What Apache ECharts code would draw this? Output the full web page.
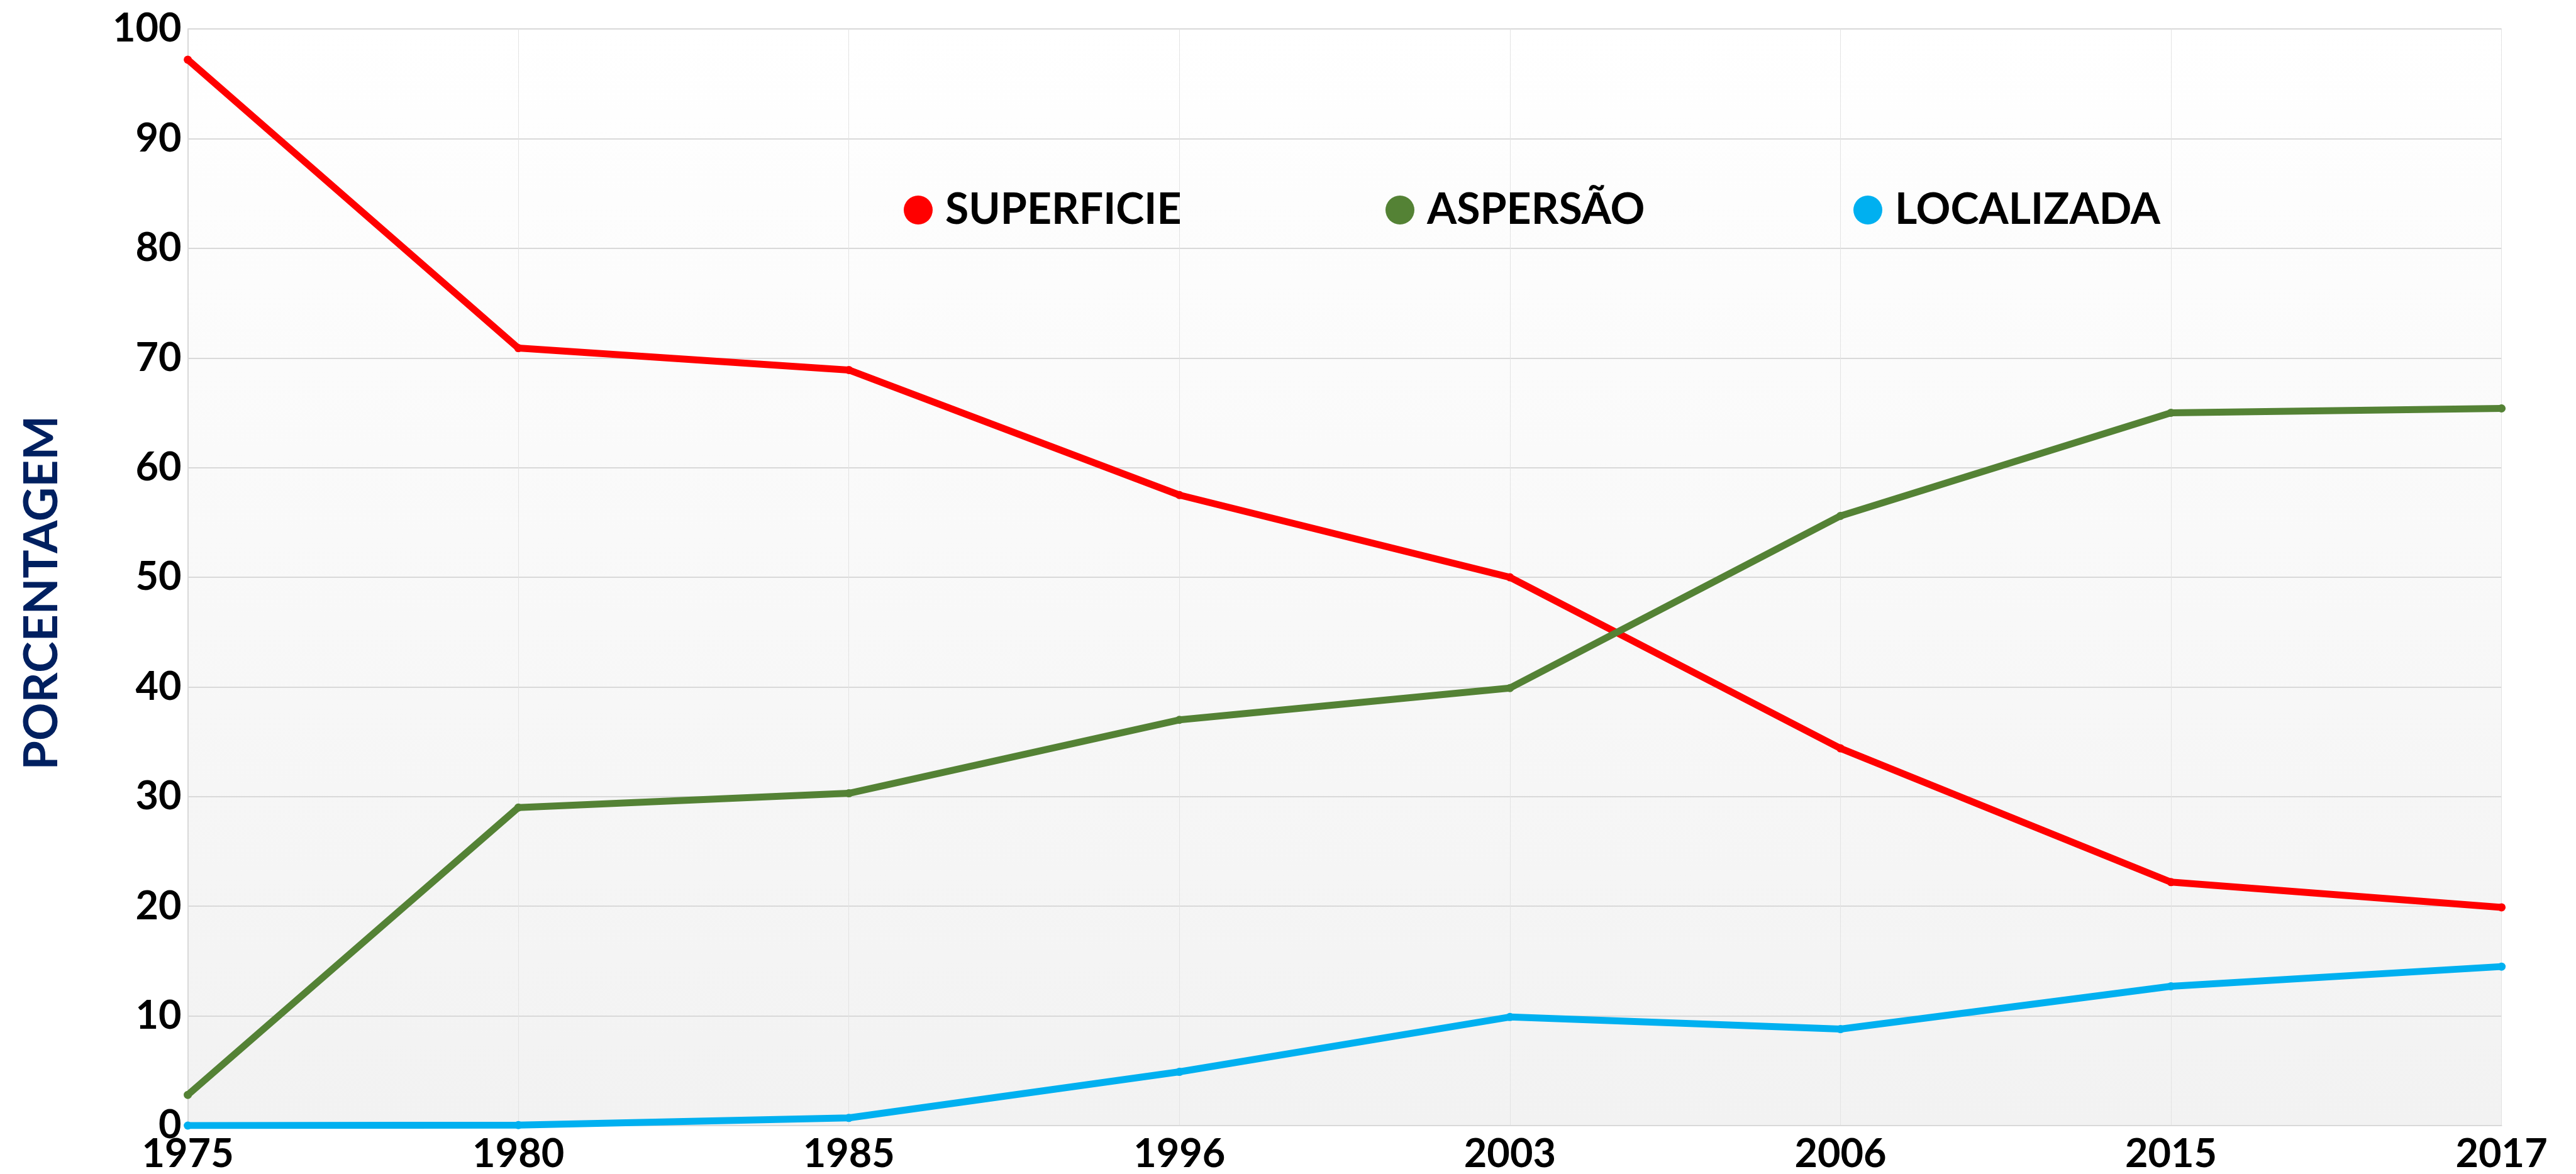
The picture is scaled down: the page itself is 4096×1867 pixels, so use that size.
<!DOCTYPE html>
<html>
<head>
<meta charset="utf-8">
<script src="https://cdn.jsdelivr.net/npm/echarts@6/dist/echarts.min.js"></script>
<style>
html,body{margin:0;padding:0;background:#fff;}
#chart{width:4096px;height:1867px;}
</style>
</head>
<body>
<div id="chart"></div>
<script>
const years = ['1975','1980','1985','1996','2003','2006','2015','2017'];
const superficie = [97.2, 70.9, 68.9, 57.5, 50.0, 34.4, 22.2, 19.9];
const aspersao   = [2.8, 29.0, 30.3, 37.0, 39.9, 55.6, 65.0, 65.4];
const localizada = [0.0, 0.05, 0.7, 4.9, 9.9, 8.8, 12.7, 14.5];
const seriesNames = ['SUPERFICIE', 'ASPERSÃO', 'LOCALIZADA'];
const colors = ['#ff0000', '#548235', '#00b0f0'];
const yTitle = 'PORCENTAGEM';

const FONT = 'Lato';
const chart = echarts.init(document.getElementById('chart'));

function mkLegend(name, leftPx) {
  return {
    data: [name],
    left: leftPx,
    top: 295,
    icon: 'circle',
    itemWidth: 46,
    itemHeight: 46,
    textStyle: {fontFamily: FONT, fontWeight: 'bold', fontSize: 68, color: '#000', padding: [0,0,0,15], lineHeight: 46}
  };
}

const mkSeries = (name, data, color) => ({
  name: name,
  type: 'line',
  data: data,
  symbol: 'circle',
  symbolSize: 13,
  showSymbol: true,
  lineStyle: {color: color, width: 11},
  itemStyle: {color: color},
  emphasis: {disabled: true},
  animation: false
});

chart.setOption({
  animation: false,
  grid: {
    left: 298.6, right: 118.4, top: 46.1, bottom: 74.9,
    show: true, borderWidth: 0,
    backgroundColor: {type: 'linear', x: 0, y: 0, x2: 0, y2: 1,
      colorStops: [{offset: 0, color: '#ffffff'}, {offset: 1, color: '#f2f2f2'}]}
  },
  legend: [
    mkLegend(seriesNames[0], 1432),
    mkLegend(seriesNames[1], 2198),
    mkLegend(seriesNames[2], 2942)
  ],
  xAxis: {
    type: 'category',
    data: years,
    boundaryGap: false,
    axisLine: {show: true, lineStyle: {color: '#d9d9d9', width: 2}},
    axisTick: {show: false},
    splitLine: {show: true, lineStyle: {color: '#e3e3e3', width: 1}},
    axisLabel: {fontFamily: FONT, fontWeight: 'bold', fontSize: 63, color: '#000', margin: 14}
  },
  yAxis: {
    type: 'value',
    min: 0, max: 100, interval: 10,
    axisLine: {show: true, lineStyle: {color: '#d9d9d9', width: 2}},
    axisTick: {show: false},
    splitLine: {show: true, lineStyle: {color: '#d9d9d9', width: 2}},
    axisLabel: {fontFamily: FONT, fontWeight: 'bold', fontSize: 63, color: '#000', margin: 10, padding: [0,0,9,0]}
  },
  graphic: [{
    type: 'text',
    x: 66.6, y: 942.6,
    rotation: Math.PI / 2,
    style: {text: yTitle, fontFamily: FONT, fontWeight: 'bold', fontSize: 75, fill: '#002060',
      align: 'center', verticalAlign: 'middle'}
  }],
  series: [
    mkSeries(seriesNames[0], superficie, colors[0]),
    mkSeries(seriesNames[1], aspersao, colors[1]),
    mkSeries(seriesNames[2], localizada, colors[2])
  ]
});
</script>
</body>
</html>
